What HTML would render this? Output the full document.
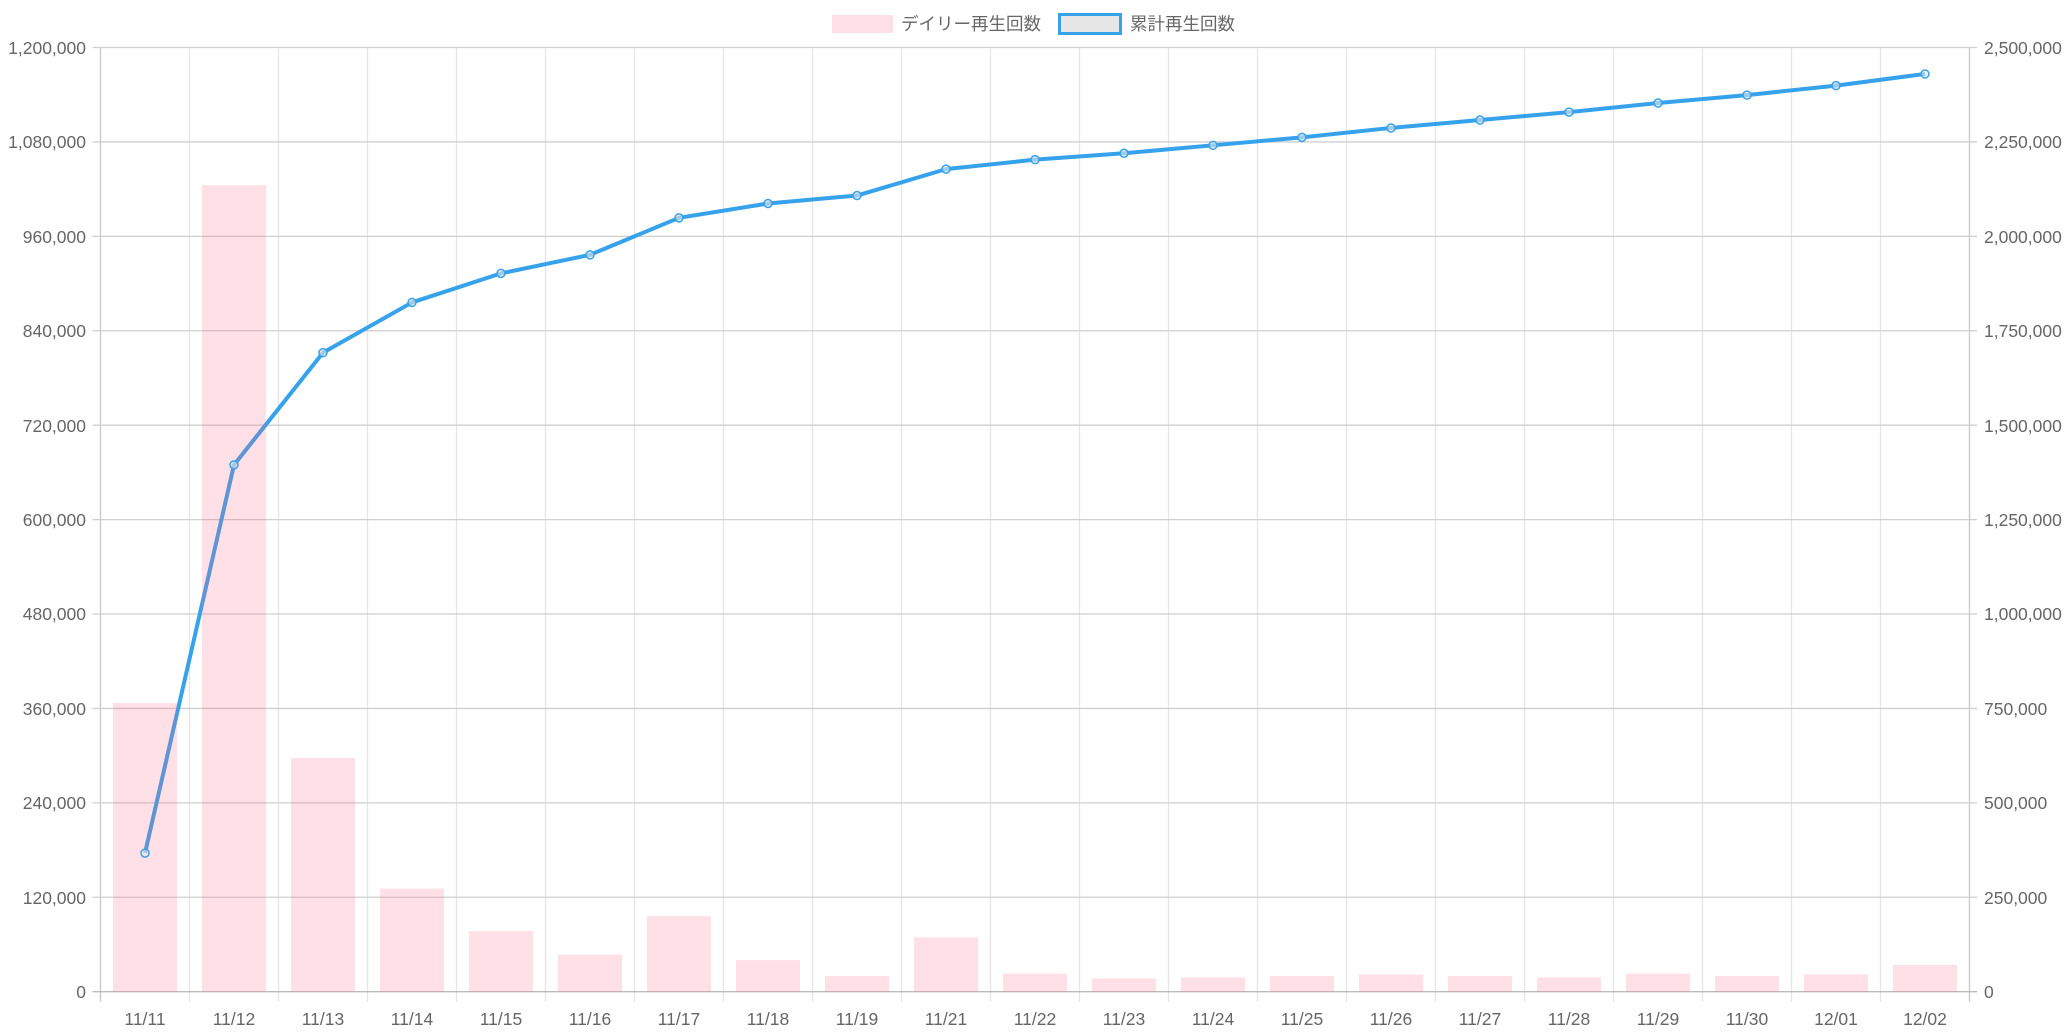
<!DOCTYPE html>
<html><head><meta charset="utf-8"><style>
html,body{margin:0;padding:0;background:#fff;}
svg{display:block;}
text{font-family:"Liberation Sans","Noto Sans CJK JP",sans-serif;fill:#666;font-size:17.5px;}
</style></head><body>
<svg id="c" width="2070" height="1035" xmlns="http://www.w3.org/2000/svg">
<g id="grid"></g>
<g id="line"></g>
<g id="bars"></g>
<g id="pts"></g>
<rect x="832" y="15" width="61" height="18" fill="rgba(255,99,132,0.2)"/>
<text x="901" y="30">デイリー再生回数</text>
<rect x="1059.5" y="14.5" width="61" height="19" fill="#e6e6e6" stroke="#36a2eb" stroke-width="3"/>
<text x="1130" y="30">累計再生回数</text>
<g text-anchor="end">
<text x="86" y="54">1,200,000</text>
<text x="86" y="148">1,080,000</text>
<text x="86" y="243">960,000</text>
<text x="86" y="337">840,000</text>
<text x="86" y="432">720,000</text>
<text x="86" y="526">600,000</text>
<text x="86" y="620">480,000</text>
<text x="86" y="715">360,000</text>
<text x="86" y="809">240,000</text>
<text x="86" y="904">120,000</text>
<text x="86" y="998">0</text>
</g>
<g text-anchor="start">
<text x="1984" y="54">2,500,000</text>
<text x="1984" y="148">2,250,000</text>
<text x="1984" y="243">2,000,000</text>
<text x="1984" y="337">1,750,000</text>
<text x="1984" y="432">1,500,000</text>
<text x="1984" y="526">1,250,000</text>
<text x="1984" y="620">1,000,000</text>
<text x="1984" y="715">750,000</text>
<text x="1984" y="809">500,000</text>
<text x="1984" y="904">250,000</text>
<text x="1984" y="998">0</text>
</g>
<g text-anchor="middle">
<text x="145" y="1025">11/11</text><text x="234" y="1025">11/12</text><text x="323" y="1025">11/13</text>
<text x="412" y="1025">11/14</text><text x="501" y="1025">11/15</text><text x="590" y="1025">11/16</text>
<text x="679" y="1025">11/17</text><text x="768" y="1025">11/18</text><text x="857" y="1025">11/19</text>
<text x="946" y="1025">11/21</text><text x="1035" y="1025">11/22</text><text x="1124" y="1025">11/23</text>
<text x="1213" y="1025">11/24</text><text x="1302" y="1025">11/25</text><text x="1391" y="1025">11/26</text>
<text x="1480" y="1025">11/27</text><text x="1569" y="1025">11/28</text><text x="1658" y="1025">11/29</text>
<text x="1747" y="1025">11/30</text><text x="1836" y="1025">12/01</text><text x="1925" y="1025">12/02</text>
</g>
</svg>
<script>
var NS="http://www.w3.org/2000/svg";
function el(p,t,a){var e=document.createElementNS(NS,t);for(var k in a)e.setAttribute(k,a[k]);document.getElementById(p).appendChild(e);return e;}
var L=100.5,R=1969,T=47.5,B=991.7,W=89;
for(var i=0;i<=21;i++){var x=L+i*W;el("grid","line",{x1:x,x2:x,y1:T,y2:B+10,stroke:(i==0||i==21)?"#c8c8c8":"#e5e5e5","stroke-width":1.3});}
for(var k=0;k<=10;k++){var y=B-k*(B-T)/10;el("grid","line",{x1:L-8,x2:R+8,y1:y,y2:y,stroke:k==0?"#bbb":"#cfcfcf","stroke-width":1.3});}
var d=[367,1025,297,131,77,47,96,40,20,69,23,17,18,20,22,20,18,23,20,22,34];
var c=[367,1395,1692,1825,1902,1951,2049,2087,2108,2178,2203,2220,2241,2262,2287,2308,2329,2353,2374,2399,2430];
var pts=[];
for(var i=0;i<21;i++){var cx=145+89*i;
var yb=B-d[i]*1000/1200000*(B-T);
el("bars","rect",{x:cx-32,y:yb,width:64,height:B-yb,fill:"rgba(255,99,132,0.2)"});
var yc=B-c[i]*1000/2500000*(B-T);pts.push(cx+","+yc);
el("pts","circle",{cx:cx,cy:yc,r:4,fill:"rgba(230,230,230,0.6)",stroke:"#36a2eb","stroke-width":1.5});}
el("line","polyline",{points:pts.join(" "),fill:"none",stroke:"#36a2eb","stroke-width":4,"stroke-linejoin":"round"});
</script>
</body></html>
